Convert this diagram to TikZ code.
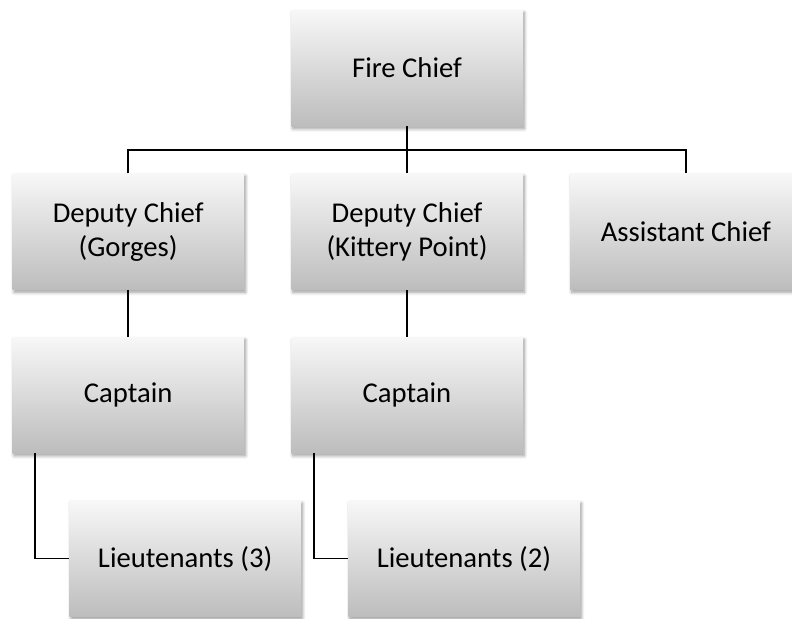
\documentclass[tikz,border=0pt]{standalone}
\usepackage{fontspec}
\setmainfont{Carlito}
\usetikzlibrary{positioning, calc, shadows.blur}

\begin{document}
\begin{tikzpicture}[
  x=0.75pt, y=-0.75pt,
  node distance=35.25pt,
  post/.style={rectangle, minimum width=173.5pt, minimum height=87pt, align=center,
    top color=black!3, bottom color=black!26,
    blur shadow={shadow xshift=1.2pt, shadow yshift=-2pt, shadow blur steps=6, shadow blur radius=2.5pt},
    font=\fontsize{21.5}{25.5}\selectfont},
  link/.style={draw, line width=1.1pt}
]
  \useasboundingbox (0,0) rectangle (792,618);
  \node[post] (chief) at (407,68) {Fire Chief};
  \node[post, below=of chief] (kittery) {Deputy Chief\\(Kittery Point)};
  \node[post, left=of kittery] (gorges) {Deputy Chief\\(Gorges)};
  \node[post, right=of kittery] (assist) {Assistant Chief};
  \node[post, below=of gorges] (capg) {Captain};
  \node[post, below=of kittery] (capk) {Captain};
  \node[post, below=of capg, xshift=42.75pt] (lieug) {Lieutenants (3)};
  \node[post, below=of capk, xshift=42.75pt] (lieuk) {Lieutenants (2)};

  \coordinate (bar) at ($(chief.south)!0.5!(kittery.north)$);
  \coordinate (capgfoot) at ([xshift=17.25pt]capg.south west);
  \coordinate (capkfoot) at ([xshift=17.25pt]capk.south west);

  \draw[link] (chief) -- (kittery);
  \draw[link] (gorges.north) |- (bar) -| (assist.north);
  \draw[link] (gorges) -- (capg);
  \draw[link] (kittery) -- (capk);
  \draw[link] (capgfoot) |- (lieug.west);
  \draw[link] (capkfoot) |- (lieuk.west);
\end{tikzpicture}
\end{document}
